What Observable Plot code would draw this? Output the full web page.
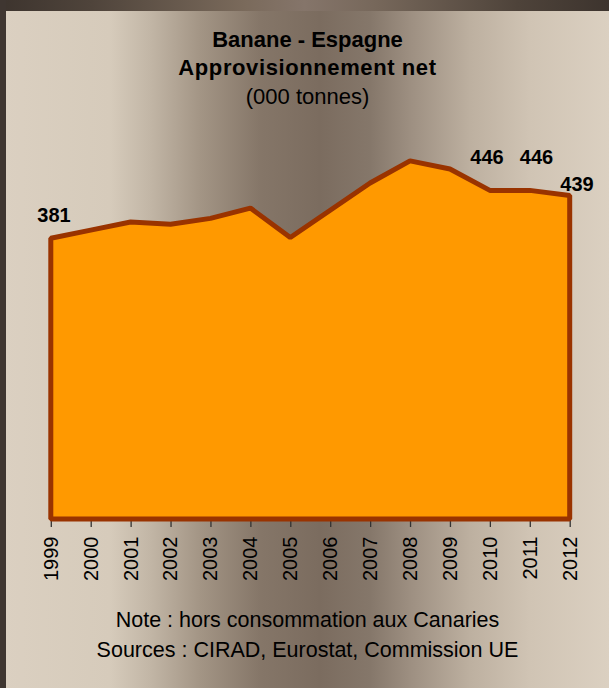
<!DOCTYPE html>
<html>
<head>
<meta charset="utf-8">
<script src="https://cdn.jsdelivr.net/npm/d3@7"></script>
<script src="https://cdn.jsdelivr.net/npm/@observablehq/plot@0.6"></script>
<style>
  html, body { margin: 0; padding: 0; }
  body { width: 609px; height: 688px; overflow: hidden; font-family: "Liberation Sans", Arial, sans-serif; }
  #wrap {
    position: relative; width: 609px; height: 688px; overflow: hidden;
    background: linear-gradient(to right,
      #dbd0c1 0px, #d6cbbb 110px, #c2b6a6 150px, #a39585 200px, #857668 260px,
      #7b6c5f 320px, #85776a 370px, #9d8f81 410px, #bdb0a0 470px, #d0c4b4 530px, #dbd0c1 609px);
  }
  #topbar {
    position: absolute; left: 0; top: 0; width: 609px; height: 11px;
    background: linear-gradient(to right, #3d342e 0%, #4f443b 15%, #7a6a5b 40%, #85756a 50%, #76675a 62%, #4e433a 85%, #3d342e 100%);
  }
  #leftbar { position: absolute; left: 0; top: 0; width: 6px; height: 688px; background: #3f3631; }
  #title {
    position: absolute; left: 6px; width: 603px; top: 25.5px; text-align: center;
    font-size: 22px; line-height: 28.7px; color: #000;
  }
  #title .b { font-weight: bold; }
  #title .b2 { font-weight: bold; letter-spacing: 0.6px; }
  #footer {
    position: absolute; left: 6px; width: 603px; top: 604.5px; text-align: center;
    font-size: 21.5px; line-height: 30px; color: #000;
  }
  #chart { position: absolute; left: 0; top: 0; }
</style>
</head>
<body>
<div id="wrap">
  <div id="topbar"></div>
  <div id="leftbar"></div>
  <div id="title">
    <div class="b">Banane - Espagne</div>
    <div class="b2">Approvisionnement net</div>
    <div>(000 tonnes)</div>
  </div>
  <div id="chart"></div>
  <div id="footer">
    <div>Note : hors consommation aux Canaries</div>
    <div>Sources : CIRAD, Eurostat, Commission UE</div>
  </div>
</div>
<script>
// Data
const years = [1999, 2000, 2001, 2002, 2003, 2004, 2005, 2006, 2007, 2008, 2009, 2010, 2011, 2012];
const values = [381, 392, 403, 400, 408, 422, 382, 419, 456, 486, 475, 446, 446, 439];
const labelYears = [1999, 2010, 2011, 2012];

const data = years.map((y, i) => ({year: y, value: values[i]}));
const labelData = data.filter(d => labelYears.includes(d.year));

function labelMark(year, dx, dy) {
  return Plot.text(labelData.filter(d => d.year === year), {
    x: "year", y: "value", text: d => String(d.value),
    dx, dy, textAnchor: "middle", lineAnchor: "bottom",
    fontSize: 20, fontWeight: "bold", fill: "#000"
  });
}

const chart = Plot.plot({
  width: 609,
  height: 688,
  marginLeft: 50.8,
  marginRight: 39.3,
  marginTop: 150.6,
  marginBottom: 169,
  style: {background: "transparent", fontFamily: "'Liberation Sans', Arial, sans-serif", color: "#000", overflow: "visible"},
  x: {type: "linear", domain: [1999, 2012], axis: null},
  y: {domain: [0, 500], axis: null},
  marks: [
    Plot.axisX({
      ticks: years, tickFormat: d => String(d), tickRotate: -90,
      tickSize: 8, tickPadding: 9, fontSize: 20, label: null,
      stroke: "#333", strokeWidth: 1.3, fill: "#000"
    }),
    Plot.areaY(data, {
      x: "year", y: "value", fill: "#ff9900",
      stroke: "#993300", strokeWidth: 5, strokeLinejoin: "miter"
    }),
    labelMark(1999, 2.7, -16.6),
    labelMark(2010, -3.4, -27),
    labelMark(2011, 6.2, -27),
    labelMark(2012, 6.8, -5.3)
  ]
});
document.getElementById("chart").appendChild(chart);
</script>
</body>
</html>
